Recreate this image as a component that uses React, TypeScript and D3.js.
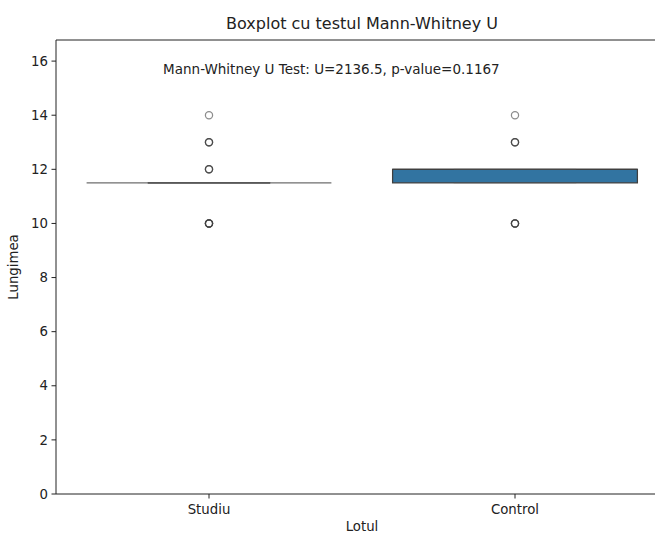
import React from "react";
import * as d3 from "d3";

const categories = ["Studiu", "Control"];
const q1 = [11.5, 11.5];
const median = [11.5, 12];
const q3 = [11.5, 12];
const whiskerLow = [11.5, 11.5];
const whiskerHigh = [11.5, 12];
const outlierValues = [[10, 12, 13, 14], [10, 13, 14]];
const outlierCounts = [[5, 3, 3, 1], [4, 3, 1]];
const boxColors = ["#ffffff", "#3274a1"];
const yTicks = [0, 2, 4, 6, 8, 10, 12, 14, 16];
const titleText = "Boxplot cu testul Mann-Whitney U";
const noteText = "Mann-Whitney U Test: U=2136.5, p-value=0.1167";

const W = 655, H = 534;
const left = 56, right = 668, top = 40, bottom = 494;
const font = "DejaVu Sans, sans-serif";

export default function App() {
  const x = d3.scaleLinear().domain([-0.5, 1.5]).range([left, right]);
  const y = d3.scaleLinear().domain([0, 16.78]).range([bottom, top]);
  const bw = 0.8;
  return (
    <svg width={W} height={H} style={{ position: "absolute", left: 0, top: 0, background: "#fff" }} fontFamily={font}>
      <text x={362} y={29} textAnchor="middle" fontSize={16} fill="#222">{titleText}</text>
      <g>
        {categories.map((c, i) => {
          const cx = x(i);
          const x0 = x(i - bw / 2), x1 = x(i + bw / 2);
          const c0 = x(i - bw / 4), c1 = x(i + bw / 4);
          const empty = q1[i] === q3[i];
          const edge = empty ? "#6e6e6e" : "#3f3f3f";
          return (
            <g key={c}>
              <line x1={cx} x2={cx} y1={y(whiskerLow[i])} y2={y(q1[i])} stroke="#3f3f3f" strokeWidth={1.25} />
              <line x1={cx} x2={cx} y1={y(q3[i])} y2={y(whiskerHigh[i])} stroke="#3f3f3f" strokeWidth={1.25} />
              <rect x={x0} y={y(q3[i])} width={x1 - x0} height={Math.max(0, y(q1[i]) - y(q3[i]))}
                fill={boxColors[i]} stroke={edge} strokeWidth={1.25} />
              <line x1={x0} x2={x1} y1={y(median[i])} y2={y(median[i])} stroke={edge} strokeWidth={1.25} />
              <line x1={c0} x2={c1} y1={y(whiskerLow[i])} y2={y(whiskerLow[i])} stroke="#555" strokeOpacity={empty ? 1 : 0.3} strokeWidth={1.25} />
              <line x1={c0} x2={c1} y1={y(whiskerHigh[i])} y2={y(whiskerHigh[i])} stroke="#555" strokeOpacity={empty ? 1 : 0.3} strokeWidth={1.25} />
              {outlierValues[i].map((v, k) =>
                d3.range(outlierCounts[i][k]).map((j) => (
                  <circle key={v + "-" + j} cx={cx} cy={y(v)} r={3.6} fill="none" stroke="#3f3f3f" strokeOpacity={0.6} strokeWidth={1.25} />
                ))
              )}
            </g>
          );
        })}
      </g>
      <text x={x(0.4)} y={74} textAnchor="middle" fontSize={13.5} fill="#222">{noteText}</text>
      <line x1={left} x2={W} y1={top} y2={top} stroke="#222" strokeWidth={1} />
      <line x1={left} x2={left} y1={top} y2={bottom} stroke="#222" strokeWidth={1} />
      <line x1={left} x2={W} y1={bottom} y2={bottom} stroke="#222" strokeWidth={1} />
      {yTicks.map((t) => (
        <g key={t}>
          <line x1={left - 4.5} x2={left} y1={y(t)} y2={y(t)} stroke="#222" strokeWidth={1} />
          <text x={left - 8} y={y(t)} dy="0.35em" textAnchor="end" fontSize={13.3} fill="#222">{t}</text>
        </g>
      ))}
      {categories.map((c, i) => (
        <g key={c}>
          <line x1={x(i)} x2={x(i)} y1={bottom} y2={bottom + 4.5} stroke="#222" strokeWidth={1} />
          <text x={x(i)} y={bottom + 20} textAnchor="middle" fontSize={13.3} fill="#222">{c}</text>
        </g>
      ))}
      <text x={362} y={531} textAnchor="middle" fontSize={13.3} fill="#222">Lotul</text>
      <text transform={`translate(18,${(top + bottom) / 2}) rotate(-90)`} textAnchor="middle" fontSize={13.3} fill="#222">Lungimea</text>
    </svg>
  );
}
